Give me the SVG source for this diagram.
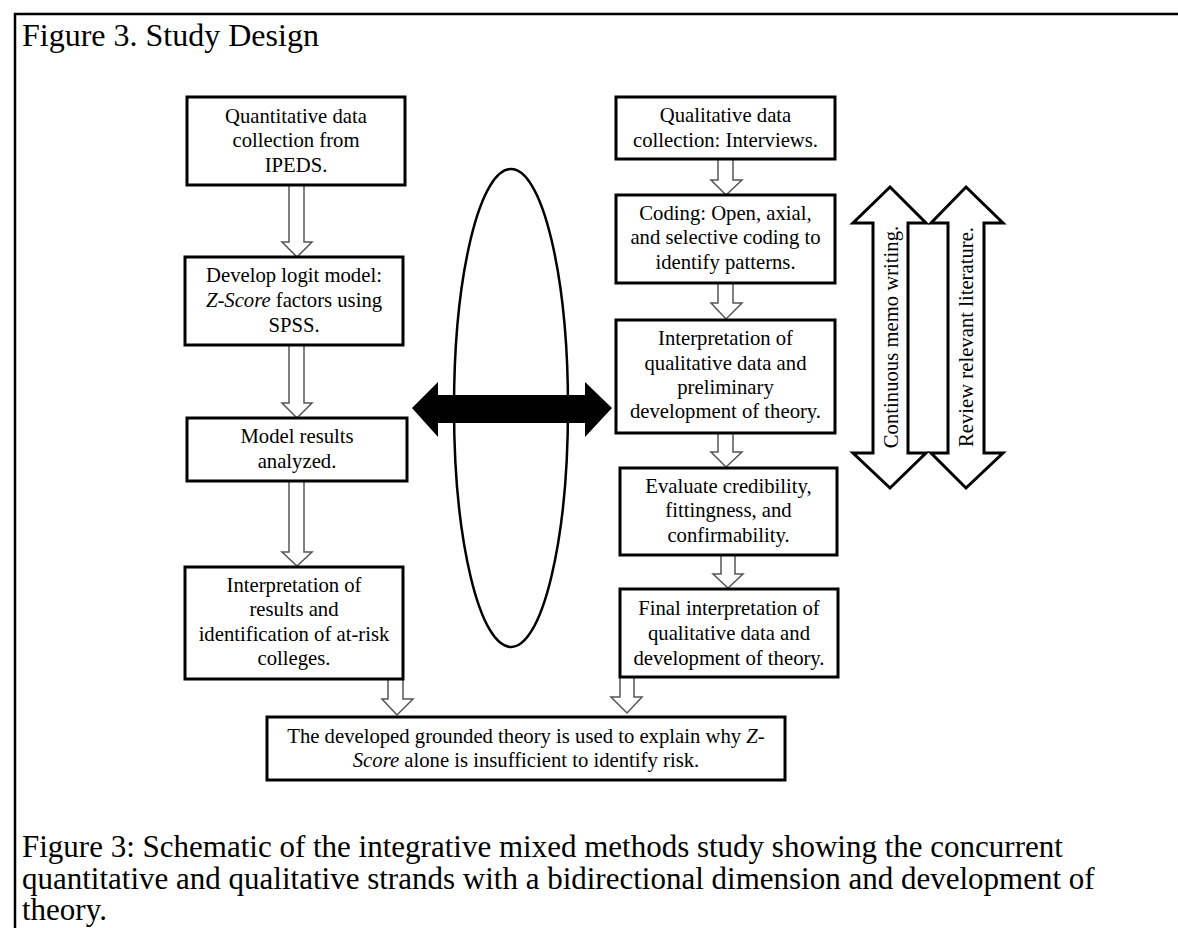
<svg xmlns="http://www.w3.org/2000/svg" width="1178" height="928" viewBox="0 0 1178 928">
<style>
text{font-family:"Liberation Serif","Times New Roman",serif;fill:#000}
.t{font-size:20.7px;text-anchor:middle}
.box{fill:#fff;stroke:#000;stroke-width:3}
.ha{fill:#fff;stroke:#555;stroke-width:1.5;stroke-linejoin:miter}
.da{fill:#fff;stroke:#000;stroke-width:3;stroke-linejoin:miter}
</style>
<rect width="1178" height="928" fill="#fff"/>
<path d="M15,928 V14 H1178" fill="none" stroke="#000" stroke-width="2.5"/>
<text x="22" y="46" style="font-size:32px">Figure 3. Study Design</text>

<g id="connectors">
<ellipse cx="511" cy="408" rx="57" ry="239" fill="none" stroke="#000" stroke-width="2.5"/>
<polygon points="412,408 438,382 438,395 585,395 585,382 612,408 585,437 585,423 438,423 438,437" fill="#000"/>
<polygon class="ha" points="289,185 304,185 304,242 312,242 297,257 282,242 289,242"/>
<polygon class="ha" points="289,345 304,345 304,403 312,403 297,418 282,403 289,403"/>
<polygon class="ha" points="289,481 304,481 304,552 312,552 297,566 282,552 289,552"/>
<polygon class="ha" points="388,679 403,679 403,699 413,699 397,715 382,699 388,699"/>
<polygon class="ha" points="718,159 733,159 733,180 742,180 726,195 711,180 718,180"/>
<polygon class="ha" points="718,283 733,283 733,303 742,303 726,319 711,303 718,303"/>
<polygon class="ha" points="718,433 733,433 733,452 742,452 726,467 711,452 718,452"/>
<polygon class="ha" points="721,555 735,555 735,574 743,574 728,588 713,574 721,574"/>
<polygon class="ha" points="620,677 634,677 634,697 642,697 627,713 611,697 620,697"/>
</g>

<g id="L1">
<rect class="box" x="187" y="97" width="218" height="88"/>
<text class="t" x="296" y="123">Quantitative data</text>
<text class="t" x="296" y="147">collection from</text>
<text class="t" x="296" y="172">IPEDS.</text>
</g>
<g id="L2">
<rect class="box" x="185" y="257" width="218" height="88"/>
<text class="t" x="294" y="282">Develop logit model:</text>
<text class="t" x="294" y="307"><tspan font-style="italic">Z-Score</tspan> factors using</text>
<text class="t" x="294" y="332">SPSS.</text>
</g>
<g id="L3">
<rect class="box" x="187" y="418" width="220" height="63"/>
<text class="t" x="297" y="443">Model results</text>
<text class="t" x="297" y="468">analyzed.</text>
</g>
<g id="L4">
<rect class="box" x="185" y="567" width="218" height="112"/>
<text class="t" x="294" y="592">Interpretation of</text>
<text class="t" x="294" y="616">results and</text>
<text class="t" x="294" y="641">identification of at-risk</text>
<text class="t" x="294" y="665">colleges.</text>
</g>

<g id="R1">
<rect class="box" x="616" y="97" width="219" height="62"/>
<text class="t" x="725.5" y="122">Qualitative data</text>
<text class="t" x="725.5" y="147">collection: Interviews.</text>
</g>
<g id="R2">
<rect class="box" x="616" y="195" width="219" height="88"/>
<text class="t" x="725.5" y="220">Coding: Open, axial,</text>
<text class="t" x="725.5" y="244">and selective coding to</text>
<text class="t" x="725.5" y="269">identify patterns.</text>
</g>
<g id="R3">
<rect class="box" x="616" y="320" width="219" height="113"/>
<text class="t" x="725.5" y="345">Interpretation of</text>
<text class="t" x="725.5" y="370">qualitative data and</text>
<text class="t" x="725.5" y="394">preliminary</text>
<text class="t" x="725.5" y="418">development of theory.</text>
</g>
<g id="R4">
<rect class="box" x="620" y="468" width="217" height="87"/>
<text class="t" x="728.5" y="493">Evaluate credibility,</text>
<text class="t" x="728.5" y="517">fittingness, and</text>
<text class="t" x="728.5" y="542">confirmability.</text>
</g>
<g id="R5">
<rect class="box" x="620" y="589" width="218" height="88"/>
<text class="t" x="729" y="615">Final interpretation of</text>
<text class="t" x="729" y="640">qualitative data and</text>
<text class="t" x="729" y="665">development of theory.</text>
</g>

<g id="memo">
<polygon class="da" points="890,187 926,223 908,223 908,453 926,453 890,488 853,453 873,453 873,223 853,223"/>
<text class="t" transform="translate(898,337) rotate(-90)">Continuous memo writing.</text>
</g>
<g id="literature">
<polygon class="da" points="966,187 1003,223 984,223 984,453 1003,453 966,488 931,453 948,453 948,223 931,223"/>
<text class="t" transform="translate(973,337) rotate(-90)">Review relevant literature.</text>
</g>

<g id="bottom">
<rect class="box" x="267" y="717" width="518" height="63"/>
<text class="t" x="526" y="743">The developed grounded theory is used to explain why <tspan font-style="italic">Z-</tspan></text>
<text class="t" x="526" y="767"><tspan font-style="italic">Score</tspan> alone is insufficient to identify risk.</text>
</g>

<g id="caption" style="font-size:31px">
<text x="22" y="857">Figure 3: Schematic of the integrative mixed methods study showing the concurrent</text>
<text x="22" y="889">quantitative and qualitative strands with a bidirectional dimension and development of</text>
<text x="22" y="920">theory.</text>
</g>
</svg>
